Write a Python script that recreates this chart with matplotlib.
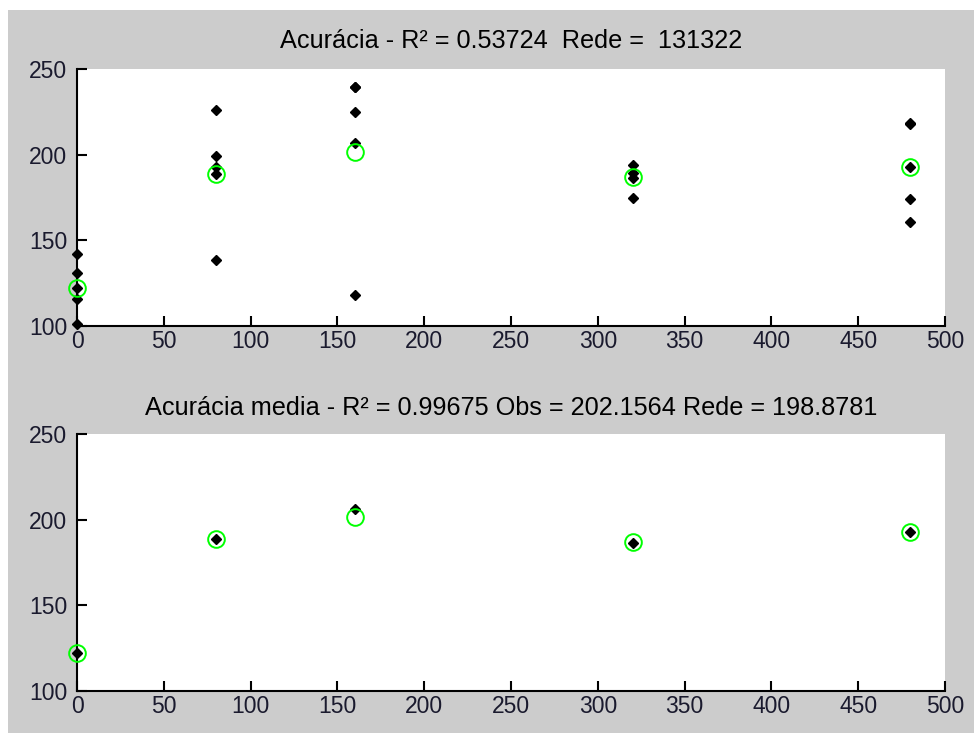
import matplotlib
matplotlib.use("Agg")
import matplotlib.pyplot as plt
from matplotlib.patches import Rectangle

plt.rcParams['font.family'] = ['Liberation Sans', 'DejaVu Sans']

# Training levels on the x axis
x_levels = [0, 80, 160, 320, 480]

# Network outputs at each level (individual runs)
rede_0 = [141.9, 131.1, 122.4, 115.9, 101.0]
rede_80 = [226.1, 199.4, 193.0, 188.9, 138.4]
rede_160 = [239.7, 239.3, 225.1, 206.7, 118.1]
rede_320 = [194.0, 189.1, 186.2, 174.5]
rede_480 = [218.3, 217.8, 193.0, 174.0, 160.9]
rede_runs = [rede_0, rede_80, rede_160, rede_320, rede_480]

# Observed means (green circles) and mean network output (black)
obs_mean = [122.4, 188.9, 201.7, 186.8, 193.0]
rede_mean = [122.0, 188.7, 206.3, 186.6, 193.0]

title_top = "Acurácia - R² = 0.53724  Rede =  131322"
title_bottom = "Acurácia media - R² = 0.99675 Obs = 202.1564 Rede = 198.8781"

x_ticks = [0, 50, 100, 150, 200, 250, 300, 350, 400, 450, 500]
y_ticks = [100, 150, 200, 250]

W, H = 974, 733
fig = plt.figure(figsize=(W / 100, H / 100), dpi=100, facecolor='white')
fig.patches.append(Rectangle((8 / W, 0), 1 - 8 / W, 1 - 10 / H,
                             transform=fig.transFigure, facecolor='#cccccc',
                             edgecolor='none', zorder=-10))

left = 77 / W
width = (945 - 77) / W
ax1 = fig.add_axes([left, 1 - 326 / H, width, (326 - 69) / H])
ax2 = fig.add_axes([left, 1 - 691 / H, width, (691 - 434) / H])

TICK_FS = 16.5
TITLE_FS = 18.2


def style(ax, title, pad):
    ax.set_facecolor('white')
    ax.set_xlim(0, 500)
    ax.set_ylim(100, 250)
    ax.set_xticks(x_ticks)
    ax.set_yticks(y_ticks)
    ax.spines['top'].set_visible(False)
    ax.spines['right'].set_visible(False)
    for s in ('left', 'bottom'):
        ax.spines[s].set_linewidth(1.5)
        ax.spines[s].set_color('black')
    ax.tick_params(direction='in', length=7, width=1.5, labelsize=TICK_FS,
                   colors='black', labelcolor='#1a1a2e')
    ax.tick_params(axis='y', pad=7)
    ax.tick_params(axis='x', pad=3)
    ax.set_title(title, fontsize=TITLE_FS, pad=pad, color='black')


style(ax1, title_top, 15)
style(ax2, title_bottom, 14)

for xv, runs in zip(x_levels, rede_runs):
    ax1.plot([xv] * len(runs), runs, linestyle='none', marker='D',
             markersize=4.8, color='black', clip_on=False, zorder=3)
ax1.plot(x_levels, obs_mean, linestyle='none', marker='o', markersize=12,
         markerfacecolor='none', markeredgecolor='#00ff00', markeredgewidth=1.4,
         clip_on=False, zorder=4)

ax2.plot(x_levels, rede_mean, linestyle='none', marker='D', markersize=4.8,
         color='black', clip_on=False, zorder=3)
ax2.plot(x_levels, obs_mean, linestyle='none', marker='o', markersize=12,
         markerfacecolor='none', markeredgecolor='#00ff00', markeredgewidth=1.4,
         clip_on=False, zorder=4)

fig.savefig('out.png', dpi=100, facecolor=fig.get_facecolor())
